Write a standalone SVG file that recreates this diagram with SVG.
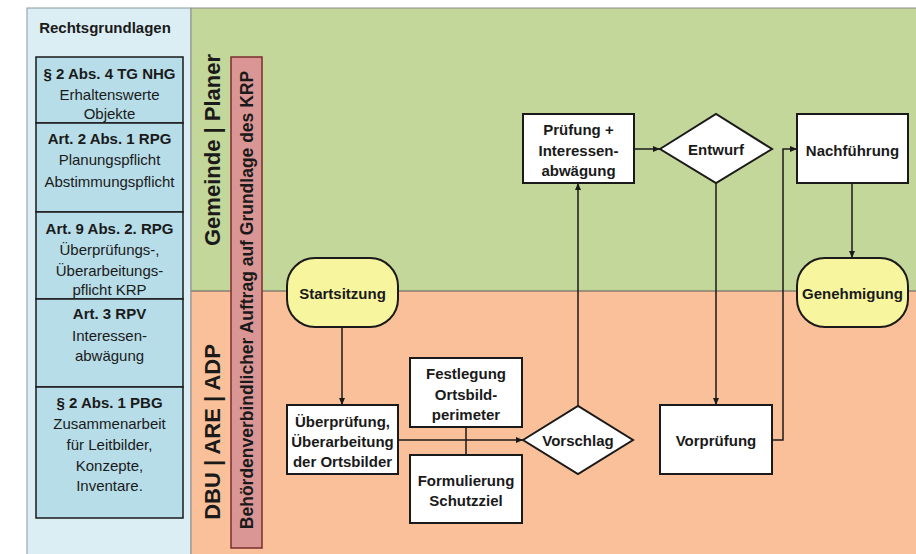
<svg xmlns="http://www.w3.org/2000/svg" width="916" height="554" viewBox="0 0 916 554">
<defs>
<marker id="arr" markerWidth="8" markerHeight="8" refX="7" refY="4" orient="auto" markerUnits="userSpaceOnUse">
<path d="M0,1 L7,4 L0,7 z" fill="#1a1a1a"/>
</marker>
<style>
.t{font-family:"Liberation Sans",Arial,sans-serif;fill:#1a1a1a;text-anchor:middle;dominant-baseline:central}
.b{font-weight:bold}
.law{fill:#b7dde8;stroke:#1a1a1a;stroke-width:1.5}
.box{fill:#ffffff;stroke:#1a1a1a;stroke-width:2}
.term{fill:#f8f59f;stroke:#1a1a1a;stroke-width:2}
.c{fill:none;stroke:#1a1a1a;stroke-width:1.5}
.lane{font-size:22px}
.p{font-size:15px}
</style>
</defs>
<rect width="916" height="554" fill="#ffffff"/>
<g id="lanes">
<rect x="27" y="8" width="164" height="550" fill="#dbeef4" stroke="#8a9a9e" stroke-width="1"/>
<rect x="191" y="8" width="725" height="283" fill="#c4d79b"/>
<rect x="191" y="291" width="725" height="263" fill="#f9c099"/>
<line x1="191" y1="291" x2="916" y2="291" stroke="#5a5a5a" stroke-width="1"/>
<line x1="191" y1="8" x2="916" y2="8" stroke="#8a8a8a" stroke-width="1"/>
<line x1="191" y1="8" x2="191" y2="554" stroke="#8a8a8a" stroke-width="1"/>
<text class="t b lane" transform="translate(212,150) rotate(-90)">Gemeinde | Planer</text>
<text class="t b lane" transform="translate(212,432) rotate(-90)">DBU | ARE | ADP</text>
</g>
<g id="legal">
<text class="t b" x="105" y="27" font-size="15">Rechtsgrundlagen</text>
<g id="law1">
<rect class="law" x="36" y="57" width="147" height="66"/>
<text class="t b p" x="109.5" y="73">§ 2 Abs. 4 TG NHG</text>
<text class="t p" x="109.5" y="94">Erhaltenswerte</text>
<text class="t p" x="109.5" y="113">Objekte</text>
</g>
<g id="law2">
<rect class="law" x="36" y="123" width="147" height="89"/>
<text class="t b p" x="109.5" y="138">Art. 2 Abs. 1 RPG</text>
<text class="t p" x="109.5" y="159">Planungspflicht</text>
<text class="t p" x="109.5" y="181">Abstimmungspflicht</text>
</g>
<g id="law3">
<rect class="law" x="36" y="212" width="147" height="87"/>
<text class="t b p" x="109.5" y="228">Art. 9 Abs. 2. RPG</text>
<text class="t p" x="109.5" y="249">Überprüfungs-,</text>
<text class="t p" x="109.5" y="270">Überarbeitungs-</text>
<text class="t p" x="109.5" y="289">pflicht KRP</text>
</g>
<g id="law4">
<rect class="law" x="36" y="299" width="147" height="88"/>
<text class="t b p" x="109.5" y="313">Art. 3 RPV</text>
<text class="t p" x="109.5" y="335">Interessen-</text>
<text class="t p" x="109.5" y="355">abwägung</text>
</g>
<g id="law5">
<rect class="law" x="36" y="387" width="147" height="131"/>
<text class="t b p" x="109.5" y="402">§ 2 Abs. 1 PBG</text>
<text class="t p" x="109.5" y="423">Zusammenarbeit</text>
<text class="t p" x="109.5" y="444">für Leitbilder,</text>
<text class="t p" x="109.5" y="465">Konzepte,</text>
<text class="t p" x="109.5" y="485">Inventare.</text>
</g>
</g>
<g id="mandate">
<rect x="231" y="57" width="31" height="491" fill="#da9694" stroke="#7a2e2c" stroke-width="1.5"/>
<text class="t b" font-size="17.5" transform="translate(247,300) rotate(-90)">Behördenverbindlicher Auftrag auf Grundlage des KRP</text>
</g>
<g id="connectors">
<path class="c" d="M342 327 V405" marker-end="url(#arr)"/>
<path class="c" d="M398 440 H523" marker-end="url(#arr)"/>
<path class="c" d="M466 427 V455"/>
<path class="c" d="M578 406 V183" marker-end="url(#arr)"/>
<path class="c" d="M634 149 H660" marker-end="url(#arr)"/>
<path class="c" d="M716 183 V405" marker-end="url(#arr)"/>
<path class="c" d="M772 440 H783 V149 H797" marker-end="url(#arr)"/>
<path class="c" d="M852 183 V258" marker-end="url(#arr)"/>
</g>
<g id="startsitzung">
<rect class="term" x="287" y="258" width="111" height="69" rx="28"/>
<text class="t b p" x="342.5" y="293">Startsitzung</text>
</g>
<g id="ueberpruefung">
<rect class="box" x="287" y="405" width="111" height="69"/>
<text class="t b p" x="342.5" y="421">Überprüfung,</text>
<text class="t b p" x="342.5" y="441">Überarbeitung</text>
<text class="t b p" x="342.5" y="461">der Ortsbilder</text>
</g>
<g id="festlegung">
<rect class="box" x="410" y="358" width="112" height="69"/>
<text class="t b p" x="466" y="373">Festlegung</text>
<text class="t b p" x="466" y="394">Ortsbild-</text>
<text class="t b p" x="466" y="414">perimeter</text>
</g>
<g id="formulierung">
<rect class="box" x="410" y="455" width="112" height="68"/>
<text class="t b p" x="466" y="480">Formulierung</text>
<text class="t b p" x="466" y="500">Schutzziel</text>
</g>
<g id="vorschlag">
<polygon class="box" points="523,440 578,406 633,440 578,474"/>
<text class="t b p" x="578" y="440">Vorschlag</text>
</g>
<g id="pruefung">
<rect class="box" x="523" y="114" width="111" height="69"/>
<text class="t b p" x="578.5" y="129">Prüfung +</text>
<text class="t b p" x="578.5" y="150">Interessen-</text>
<text class="t b p" x="578.5" y="170">abwägung</text>
</g>
<g id="entwurf">
<polygon class="box" points="660,149 716,114 772,149 716,183"/>
<text class="t b p" x="716" y="149">Entwurf</text>
</g>
<g id="vorpruefung">
<rect class="box" x="660" y="405" width="112" height="69"/>
<text class="t b p" x="716" y="440">Vorprüfung</text>
</g>
<g id="nachfuehrung">
<rect class="box" x="797" y="114" width="111" height="69"/>
<text class="t b p" x="852.5" y="150">Nachführung</text>
</g>
<g id="genehmigung">
<rect class="term" x="797" y="258" width="111" height="69" rx="28"/>
<text class="t b p" x="852.5" y="293">Genehmigung</text>
</g>
</svg>
